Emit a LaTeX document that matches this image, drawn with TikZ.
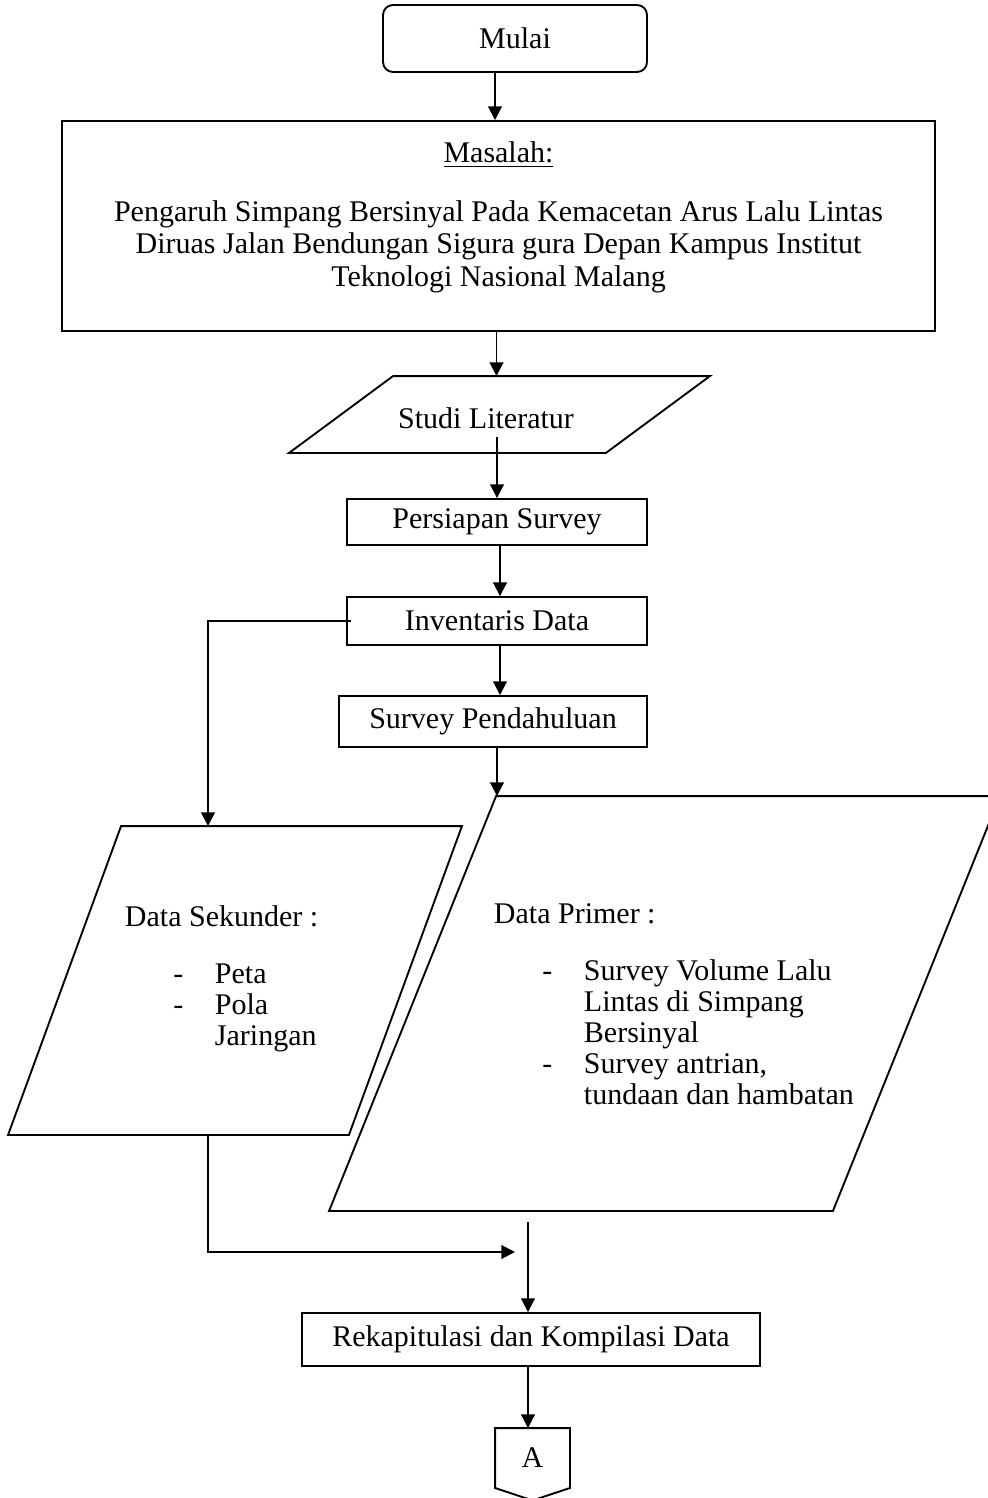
\documentclass[tikz,border=0pt]{standalone}
\usepackage{fontspec}
\setmainfont{Liberation Serif}
\usetikzlibrary{arrows.meta}

\newcommand{\butir}[1]{\hspace*{19.4pt}\makebox[16.6pt][l]{-}#1}
\newcommand{\lanjut}[1]{\hspace*{36pt}#1}
% jajaran genjang di sekitar node: #1 = node, #2 = geser
\newcommand{\genjang}[2]{\draw ([xshift=#2]#1.north west) -- (#1.north east) -- ([xshift=-#2]#1.south east) -- (#1.south west) -- cycle;}

\tikzset{
  kotak/.style={draw, rectangle, inner sep=0pt},
  bidang/.style={rectangle, inner sep=0pt},
  isian/.style={align=left, anchor=west, inner sep=0pt, font=\fontsize{12}{12.4}\selectfont},
}

\begin{document}
\begin{tikzpicture}[x=0.4pt, y=-0.4pt, line width=0.75pt, >={Triangle[length=5.5pt,width=5.5pt]}, font=\fontsize{12}{13}\selectfont]
\useasboundingbox (0,0) rectangle (987,1498);

\node[kotak, rounded corners=4pt, minimum width=105.6pt, minimum height=26.8pt] (mulai) at (515,38.5) {Mulai};
\node[kotak, minimum width=349.2pt, minimum height=84pt] (masalah) at (498.5,226) {};
\node[align=center, inner sep=0pt] (masalahteks) at (498.5,217) {\underline{Masalah:}\\[10.6pt]
  Pengaruh Simpang Bersinyal Pada Kemacetan Arus Lalu Lintas\\
  Diruas Jalan Bendungan Sigura gura Depan Kampus Institut\\
  Teknologi Nasional Malang};
\node[bidang, minimum width=167.6pt, minimum height=30pt] (studi) at (499.5,414.5) {};
\genjang{studi}{41.6pt}
\node[inner sep=0pt] (studiteks) at (486,418) {Studi Literatur};
\node[kotak, minimum width=120pt, minimum height=18.4pt] (persiapan) at (497,522) {Persiapan Survey};
\node[kotak, minimum width=120pt, minimum height=19.2pt] (inventaris) at (497,621) {Inventaris Data};
\node[kotak, minimum width=123.2pt, minimum height=20.4pt] (pendahuluan) at (493,721.5) {Survey Pendahuluan};

\node[bidang, minimum width=180.8pt, minimum height=122.8pt] (sekunder) at (235,980.5) {};
\genjang{sekunder}{45.2pt}
\node[isian] (sekunderteks) at (124,979) {Data Sekunder :\\[10.4pt]
  \butir{Peta}\\
  \butir{Pola}\\
  \lanjut{Jaringan}};
\node[bidang, minimum width=267.6pt, minimum height=165.2pt] (primer) at (664.5,1003.5) {};
\genjang{primer}{66.8pt}
\node[isian] (primerteks) at (493,1004) {Data Primer :\\[10.4pt]
  \butir{Survey Volume Lalu}\\
  \lanjut{Lintas di Simpang}\\
  \lanjut{Bersinyal}\\
  \butir{Survey antrian,}\\
  \lanjut{tundaan dan hambatan}};

\node[kotak, minimum width=183.2pt, minimum height=21.2pt] (rekap) at (531,1339.5) {Rekapitulasi dan Kompilasi Data};
% penghubung halaman
\node[bidang, minimum width=29.2pt, minimum height=23.2pt] (konektor) at (532.5,1458) {A};
\draw (konektor.south west) -- (konektor.north west) -- (konektor.north east) -- (konektor.south east) -- ([yshift=-5pt]konektor.south) -- cycle;

\coordinate (kiri) at (208,622);
\coordinate (ujung) at (515,1252);
\coordinate (pangkal) at (528,1222);

% panah
\draw[->] (mulai.south) ++(-20,0) coordinate (m1) -- (m1 |- masalah.north);
\draw[->] (masalah.south) ++(-2,0) coordinate (m2) -- (m2 |- studi.north);
\draw[<-] (persiapan.north) -- ++(0,-61);
\draw[->] (persiapan.south) ++(3,0) coordinate (p1) -- (p1 |- inventaris.north);
\draw[->] (inventaris.south) ++(3,0) coordinate (i1) -- (i1 |- pendahuluan.north);
\draw[->] (pendahuluan.south) ++(4,0) coordinate (s1) -- (s1 |- primer.north);
\draw[->] (inventaris.west) ++(5,0) -| (kiri |- sekunder.north);
\draw[->] (kiri |- sekunder.south) |- (ujung);
\draw[->] (pangkal) -- (pangkal |- rekap.north);
\draw[->] (rekap.south) ++(-3,0) coordinate (r1) -- (r1 |- konektor.north);

\end{tikzpicture}
\end{document}
